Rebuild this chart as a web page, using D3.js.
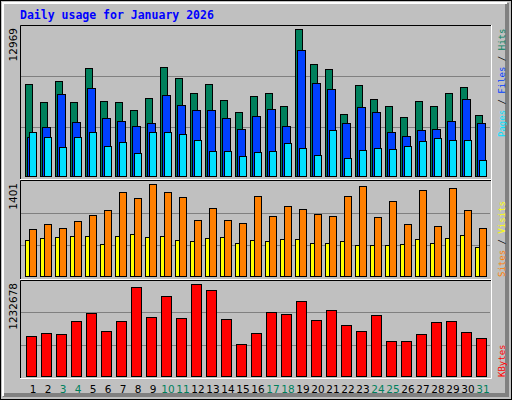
<!DOCTYPE html>
<html><head><meta charset="utf-8">
<script src="https://cdn.jsdelivr.net/npm/d3@7"></script>
<style>body{margin:0;background:#fff}</style>
</head><body>
<script>
var days = d3.range(1, 32);
var weekend = [3, 4, 10, 11, 17, 18, 24, 25, 31];
var hits = [8114,6527,8379,6527,9526,6615,6527,5821,6880,9614,8644,7321,8114,6703,5645,7056,7321,6174,12969,9878,9437,5468,8026,6791,6174,5204,6615,6174,7321,7850,5380];
var files = [3440,4322,7232,4763,7762,5116,4851,4410,4675,7144,6262,5821,5821,5116,4145,5292,5909,4410,11113,8203,7673,4675,6086,5645,3881,3528,4057,4145,4851,6791,4675];
var pages = [3881,3440,2558,3440,3881,2646,2999,2029,3881,3881,3704,3175,2205,2205,1764,2117,2205,2911,2470,1852,4057,1588,2293,2470,2381,2646,3087,3352,3175,3175,1411];
var sites = [548,579,594,609,609,487,609,640,594,609,548,533,579,594,503,548,533,564,564,503,503,533,472,472,472,487,564,503,579,624,442];
var visits = [716,792,731,838,929,1005,1279,1188,1401,1279,1203,853,1036,853,807,1218,914,1066,1020,944,914,1218,1371,899,1142,792,1310,762,1340,1005,731];
var kbytes = [530858,571348,557851,733304,841276,598340,733304,1192182,787290,1070714,773794,1232678,1151693,760297,422887,571348,854772,827779,1003232,746801,881765,679319,598340,814283,463377,463377,557851,719808,733304,584844,503866];

var svg = d3.select("body").append("svg").attr("width", 512).attr("height", 400);
svg.append("rect").attr("width", 512).attr("height", 400).attr("fill", "#c0c0c0");
svg.append("rect").attr("x", 0.5).attr("y", 0.5).attr("width", 511).attr("height", 399)
    .attr("fill", "none").attr("stroke", "#000");
svg.append("path").attr("d", "M507,3V395H3").attr("fill", "none").attr("stroke", "#808080").attr("stroke-width", 4);
svg.append("path").attr("d", "M3,396V3H507").attr("fill", "none").attr("stroke", "#fff").attr("stroke-width", 2);

svg.append("text").attr("x", 20).attr("y", 19)
    .attr("font-family", "DejaVu Sans Mono").attr("font-weight", "bold").attr("font-size", 11.5)
    .attr("fill", "#0000ff").text("Daily usage for January 2026");

var x = d3.scaleLinear().domain([1, 31]).range([33, 483]);

function panel(top, bottom, max, base) {
    var g = svg.append("g");
    g.append("rect").attr("x", 20).attr("y", top).attr("width", 471).attr("height", bottom - top).attr("fill", "#c0c0c0");
    [1, 2].forEach(function (k) {
        var yy = Math.round(top + (bottom - top) * k / 3) + 0.5;
        g.append("line").attr("x1", 21).attr("x2", 490).attr("y1", yy).attr("y2", yy).attr("stroke", "#808080");
    });
    g.append("path").attr("d", "M20.5," + (bottom + 1) + "V" + (top + 0.5) + "H491").attr("fill", "none").attr("stroke", "#000");
    g.append("path").attr("d", "M20," + (bottom + 1.5) + "H491.5V" + top).attr("fill", "none").attr("stroke", "#fff");
    return d3.scaleLinear().domain([0, max]).range([base, top + 4]);
}

function bars(data, y, dx, w, color) {
    svg.append("g").selectAll("rect").data(data).join("rect")
        .attr("x", function (d, i) { return x(days[i]) + dx + 0.5; })
        .attr("y", function (d) { return Math.round(y(d)) + 0.5; })
        .attr("width", w)
        .attr("height", function (d) { return y(0) - Math.round(y(d)); })
        .attr("fill", color).attr("stroke", "#000");
}

var y1 = panel(25, 178, d3.max(hits), 176);
bars(hits, y1, -8, 7, "#00805c");
bars(files, y1, -6, 8, "#0040ff");
bars(pages, y1, -4, 7, "#00e0ff");

var y2 = panel(180, 278, d3.max(visits), 276);
bars(sites, y2, -8, 4, "#ffff00");
bars(visits, y2, -4, 7, "#ff8000");

var y3 = panel(280, 377, d3.max(kbytes), 376);
bars(kbytes, y3, -7, 10, "#ff0000");

function leftLabel(yTop, txt) {
    svg.append("text").attr("transform", "translate(17," + yTop + ") rotate(-90)")
        .attr("text-anchor", "end").attr("font-family", "DejaVu Sans").attr("font-size", 10.5)
        .attr("fill", "#000").text(txt);
}
leftLabel(28, d3.max(hits));
leftLabel(183, d3.max(visits));
leftLabel(283, d3.max(kbytes));

function rightLabel(yStart, parts) {
    var t = svg.append("text").attr("transform", "translate(505," + yStart + ") rotate(-90)")
        .attr("font-family", "DejaVu Sans Mono").attr("font-size", 9);
    parts.forEach(function (p) { t.append("tspan").attr("fill", p[1]).text(p[0]); });
}
rightLabel(137, [["Pages", "#00e0ff"], [" / ", "#000"], ["Files", "#0040ff"], [" / ", "#000"], ["Hits", "#00805c"]]);
rightLabel(277, [["Sites", "#ff8000"], [" / ", "#000"], ["Visits", "#ffff00"]]);
rightLabel(377, [["KBytes", "#ff0000"]]);

svg.append("g").selectAll("text").data(days).join("text")
    .attr("x", function (d) { return x(d); }).attr("y", 393)
    .attr("text-anchor", "middle").attr("font-family", "DejaVu Sans").attr("font-size", 10.5)
    .attr("fill", function (d) { return weekend.indexOf(d) >= 0 ? "#00805c" : "#000"; })
    .text(function (d) { return d; });
</script>
</body></html>
